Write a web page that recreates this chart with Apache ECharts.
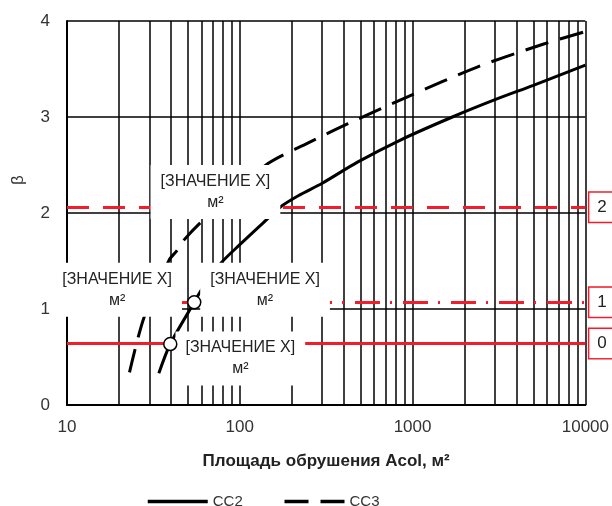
<!DOCTYPE html>
<html>
<head>
<meta charset="utf-8">
<script src="https://cdn.jsdelivr.net/npm/echarts@6/dist/echarts.min.js"></script>
<style>
	html, body { margin: 0; padding: 0; background: #fff; }
	#main { width: 612px; height: 506px; }
</style>
</head>
<body>
<div id="main"></div>
<script>
// кривые beta(Acol)
var cc2 = [ [34, 0.33], [39.6, 0.635], [54.5, 1.07], [60, 1.2], [78, 1.48], [100, 1.67],
		[141, 1.92], [174, 2.07], [218, 2.18], [300, 2.31], [480, 2.53], [850, 2.76],
		[1700, 3.0], [3000, 3.18], [5000, 3.33], [10000, 3.54] ];
var cc3 = [ [23, 0.34], [28, 0.92], [39, 1.51], [43.4, 1.61], [47.6, 1.72], [60, 1.91],
		[95, 2.23], [147, 2.52], [249, 2.73], [423, 2.93], [935, 3.21], [2366, 3.52],
		[5740, 3.76], [10000, 3.89] ];
// пороговые уровни (красные линии)
var levels = [ 0.635, 1.07, 2.06 ];
var levelNames = [ '0', '1', '2' ];
// точки пересечения
var crossPoints = [ [39.6, 0.635], [54.5, 1.07] ];
var noteText = '[ЗНАЧЕНИЕ X]\nм²';

var font = 'Liberation Sans';

// вспомогательные линии логарифмической сетки 20..90, 200..900, 2000..9000
var minorLines = [];
for (var d = 10; d < 10000; d *= 10) {
	for (var k = 2; k <= 9; k++) {
		minorLines.push({ xAxis : k * d });
	}
}

var levelTypes = [ 'solid', [ 25, 10, 2, 11 ], [ 22, 14 ] ];
var levelLines = [];
for (var i = 0; i < levels.length; i++) {
	levelLines.push({
		yAxis : levels[i],
		lineStyle : { type : levelTypes[i] },
		label : { formatter : levelNames[i] }
	});
}

var myChart = echarts.init(document.getElementById('main'));
myChart.setOption({
	animation : false,
	textStyle : { fontFamily : font },
	grid : { left : 67, right : 23, top : 21, bottom : 101 },
	legend : {
		data : [ {
			name : 'CC2'
		}, {
			name : 'CC3',
			lineStyle : { type : [ 24, 12 ] }
		} ],
		left : 141,
		top : 489,
		itemWidth : 60,
		itemHeight : 14,
		itemGap : 40,
		itemStyle : { opacity : 0 },
		lineStyle : { width : 3.5 },
		textStyle : { fontFamily : font, fontSize : 15, color : '#333' }
	},
	graphic : [ {
		type : 'text',
		x : 18,
		y : 180,
		rotation : Math.PI / 2,
		style : { text : 'β', font : '17px ' + font, fill : '#333', align : 'center', verticalAlign : 'middle' }
	} ],
	xAxis : {
		type : 'log',
		logBase : 10,
		min : 10,
		max : 10000,
		name : 'Площадь обрушения Acol, м²',
		nameLocation : 'middle',
		nameGap : 48,
		nameTextStyle : { fontFamily : font, fontSize : 17, fontWeight : 'bold', color : '#222' },
		axisLine : { show : true, lineStyle : { color : '#000', width : 2 } },
		axisTick : { show : false },
		axisLabel : {
			fontSize : 17,
			color : '#333',
			margin : 14,
			formatter : function(v) { return String(v); }
		},
		splitLine : { show : true, lineStyle : { color : '#000', width : 1.5 } }
	},
	yAxis : {
		type : 'value',
		min : 0,
		max : 4,
		interval : 1,
		axisLine : { show : true, lineStyle : { color : '#000', width : 2 } },
		axisTick : { show : false },
		axisLabel : { fontSize : 17, color : '#333', margin : 17 },
		splitLine : { show : true, lineStyle : { color : '#000', width : 1.5 } }
	},
	series : [ {
		// сетка
		type : 'line',
		data : [],
		z : 1,
		silent : true,
		markLine : {
			silent : true,
			symbol : 'none',
			label : { show : false },
			lineStyle : { color : '#000', width : 1.5, type : 'solid' },
			emphasis : { disabled : true },
			data : minorLines
		}
	}, {
		// пороги
		type : 'line',
		data : [],
		z : 3,
		markLine : {
			silent : true,
			symbol : 'none',
			lineStyle : { color : '#f21d2a', width : 3 },
			emphasis : { disabled : true },
			label : {
				position : 'end',
				distance : 4,
				fontSize : 17,
				color : '#222',
				backgroundColor : '#fff',
				borderColor : '#f21d2a',
				borderWidth : 1.5,
				padding : [ 6, 8 ]
			},
			data : levelLines
		}
	}, {
		name : 'CC2',
		type : 'line',
		z : 4,
		data : cc2,
		symbol : 'none',
		smooth : 0.3,
		lineStyle : { color : '#000', width : 3 },
		itemStyle : { color : '#000' }
	}, {
		name : 'CC3',
		type : 'line',
		z : 4,
		data : cc3,
		symbol : 'none',
		smooth : 0.3,
		lineStyle : { color : '#000', width : 3, type : [ 24, 12 ] },
		itemStyle : { color : '#000' }
	}, {
		// подписи значений (точки привязки подписей)
		type : 'scatter',
		z : 10,
		silent : true,
		symbolSize : 1,
		itemStyle : { color : '#fff', opacity : 1 },
		data : [ [ 72.3, 2.22 ], [ 19.5, 1.2 ], [ 140, 1.2 ], [ 100.7, 0.484 ] ],
		label : {
			show : true,
			position : 'inside',
			formatter : noteText,
			fontFamily : font,
			fontSize : 16,
			lineHeight : 21,
			color : '#222',
			opacity : 1,
			align : 'center',
			backgroundColor : '#fff',
			padding : [ 6, 10 ]
		}
	}, {
		type : 'scatter',
		z : 12,
		data : crossPoints,
		symbolSize : 13,
		itemStyle : { color : '#fff', borderColor : '#000', borderWidth : 1.5, opacity : 1 }
	} ]
});
</script>
</body>
</html>
